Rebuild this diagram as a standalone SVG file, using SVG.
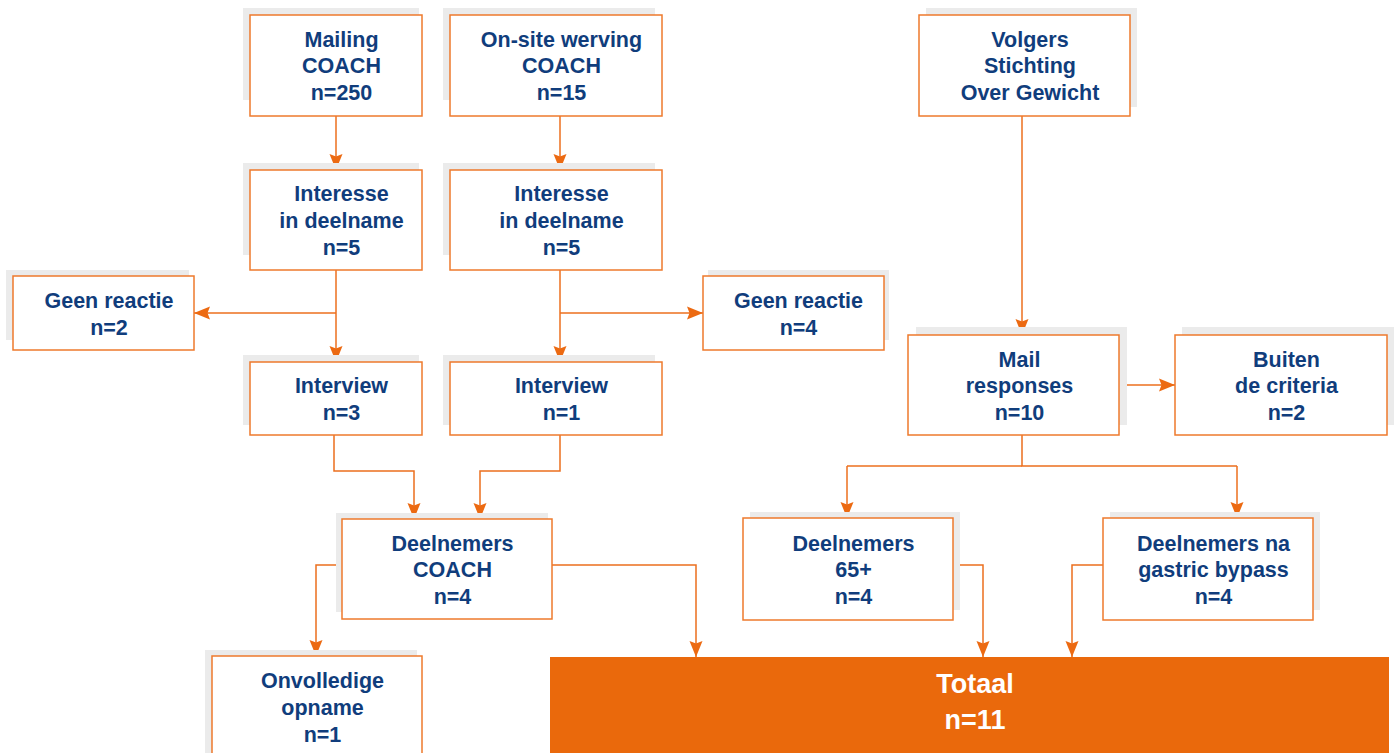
<svg xmlns="http://www.w3.org/2000/svg" width="1394" height="753" viewBox="0 0 1394 753">
<style>
.sh{fill:#ebebeb;}
.bx{fill:#ffffff;stroke:#ee7a2c;stroke-width:1.5;}
.t{font-family:"Liberation Sans",Arial,sans-serif;font-weight:bold;font-size:21.5px;fill:#103d7c;text-anchor:middle;}
.tw{font-family:"Liberation Sans",Arial,sans-serif;font-weight:bold;font-size:27px;fill:#ffffff;text-anchor:middle;}
.ln{fill:none;stroke:#ec6f1e;stroke-width:1.5;marker-end:url(#ah);}
.ln0{fill:none;stroke:#ec6f1e;stroke-width:1.5;}
</style>
<defs>
<marker id="ah" markerUnits="userSpaceOnUse" viewBox="0 0 16 13" markerWidth="16" markerHeight="13" refX="16" refY="6.5" orient="auto" overflow="visible">
<path d="M0,0 L16,6.5 L0,13 L2.5,6.5 z" fill="#ec6a12"/>
</marker>
</defs>
<rect width="1394" height="753" fill="#ffffff"/>

<g id="connectors">
<path class="ln" d="M336,116 V170"/>
<path class="ln" d="M560,116 V170"/>
<path class="ln" d="M336,270 V362"/>
<path class="ln" d="M336,313 H194"/>
<path class="ln" d="M560,270 V362"/>
<path class="ln" d="M560,313 H703"/>
<path class="ln" d="M334,435 V471 H414 V519"/>
<path class="ln" d="M560,435 V471 H480 V519"/>
<path class="ln" d="M342,565 H316 V656"/>
<path class="ln" d="M552,565 H696 V657"/>
<path class="ln" d="M1022,116 V335"/>
<path class="ln" d="M1119,385 H1175"/>
<path class="ln0" d="M1022,435 V466 H1237"/>
<path class="ln0" d="M1022,466 H847"/>
<path class="ln" d="M847,466 V518"/>
<path class="ln" d="M1237,466 V518"/>
<path class="ln" d="M953,565 H983 V657"/>
<path class="ln" d="M1103,565 H1072 V657"/>
</g>

<g id="mailing">
<rect class="sh" x="243" y="8" width="176" height="92"/>
<rect class="bx" x="250" y="15" width="172" height="101"/>
<text class="t" x="341.5" y="47">Mailing</text>
<text class="t" x="341.5" y="73">COACH</text>
<text class="t" x="341.5" y="100">n=250</text>
</g>

<g id="onsite">
<rect class="sh" x="443" y="8" width="212" height="92"/>
<rect class="bx" x="450" y="15" width="212" height="101"/>
<text class="t" x="561.5" y="47">On-site werving</text>
<text class="t" x="561.5" y="73">COACH</text>
<text class="t" x="561.5" y="100">n=15</text>
</g>

<g id="volgers">
<rect class="sh" x="926" y="8" width="211" height="99"/>
<rect class="bx" x="919" y="15" width="211" height="101"/>
<text class="t" x="1030" y="47">Volgers</text>
<text class="t" x="1030" y="73">Stichting</text>
<text class="t" x="1030" y="100">Over Gewicht</text>
</g>

<g id="interesse1">
<rect class="sh" x="243" y="163" width="176" height="92"/>
<rect class="bx" x="250" y="170" width="172" height="100"/>
<text class="t" x="341.5" y="201">Interesse</text>
<text class="t" x="341.5" y="228">in deelname</text>
<text class="t" x="341.5" y="255">n=5</text>
</g>

<g id="interesse2">
<rect class="sh" x="443" y="163" width="212" height="92"/>
<rect class="bx" x="450" y="170" width="212" height="100"/>
<text class="t" x="561.5" y="201">Interesse</text>
<text class="t" x="561.5" y="228">in deelname</text>
<text class="t" x="561.5" y="255">n=5</text>
</g>

<g id="geenreactie1">
<rect class="sh" x="6" y="270" width="183" height="70"/>
<rect class="bx" x="13" y="276" width="181" height="74"/>
<text class="t" x="109" y="308">Geen reactie</text>
<text class="t" x="109" y="335">n=2</text>
</g>

<g id="geenreactie2">
<rect class="sh" x="708" y="270" width="181" height="70"/>
<rect class="bx" x="703" y="276" width="181" height="74"/>
<text class="t" x="798.5" y="308">Geen reactie</text>
<text class="t" x="798.5" y="335">n=4</text>
</g>

<g id="interview1">
<rect class="sh" x="243" y="355" width="176" height="70"/>
<rect class="bx" x="250" y="362" width="172" height="73"/>
<text class="t" x="341.5" y="393">Interview</text>
<text class="t" x="341.5" y="420">n=3</text>
</g>

<g id="interview2">
<rect class="sh" x="443" y="355" width="212" height="70"/>
<rect class="bx" x="450" y="362" width="212" height="73"/>
<text class="t" x="561.5" y="393">Interview</text>
<text class="t" x="561.5" y="420">n=1</text>
</g>

<g id="mailresponses">
<rect class="sh" x="916" y="327" width="211" height="98"/>
<rect class="bx" x="908" y="335" width="211" height="100"/>
<text class="t" x="1019.5" y="367">Mail</text>
<text class="t" x="1019.5" y="393">responses</text>
<text class="t" x="1019.5" y="420">n=10</text>
</g>

<g id="buiten">
<rect class="sh" x="1182" y="327" width="212" height="98"/>
<rect class="bx" x="1175" y="335" width="212" height="100"/>
<text class="t" x="1286.5" y="367">Buiten</text>
<text class="t" x="1286.5" y="393">de criteria</text>
<text class="t" x="1286.5" y="420">n=2</text>
</g>

<g id="deelnemerscoach">
<rect class="sh" x="336" y="513" width="212" height="99"/>
<rect class="bx" x="342" y="519" width="210" height="100"/>
<text class="t" x="452.5" y="551">Deelnemers</text>
<text class="t" x="452.5" y="577">COACH</text>
<text class="t" x="452.5" y="604">n=4</text>
</g>

<g id="deelnemers65">
<rect class="sh" x="750" y="512" width="210" height="98"/>
<rect class="bx" x="743" y="518" width="210" height="102"/>
<text class="t" x="853.5" y="551">Deelnemers</text>
<text class="t" x="853.5" y="577">65+</text>
<text class="t" x="853.5" y="604">n=4</text>
</g>

<g id="deelnemersgastric">
<rect class="sh" x="1110" y="512" width="210" height="98"/>
<rect class="bx" x="1103" y="518" width="210" height="102"/>
<text class="t" x="1213.5" y="551">Deelnemers na</text>
<text class="t" x="1213.5" y="577">gastric bypass</text>
<text class="t" x="1213.5" y="604">n=4</text>
</g>

<g id="onvolledige">
<rect class="sh" x="205" y="650" width="212" height="110"/>
<rect class="bx" x="212" y="656" width="210" height="110"/>
<text class="t" x="322.5" y="688">Onvolledige</text>
<text class="t" x="322.5" y="715">opname</text>
<text class="t" x="322.5" y="742">n=1</text>
</g>

<g id="totaal">
<rect x="550" y="657" width="839" height="100" fill="#ea690c"/>
<text class="tw" x="975" y="693">Totaal</text>
<text class="tw" x="975" y="729">n=11</text>
</g>
</svg>
